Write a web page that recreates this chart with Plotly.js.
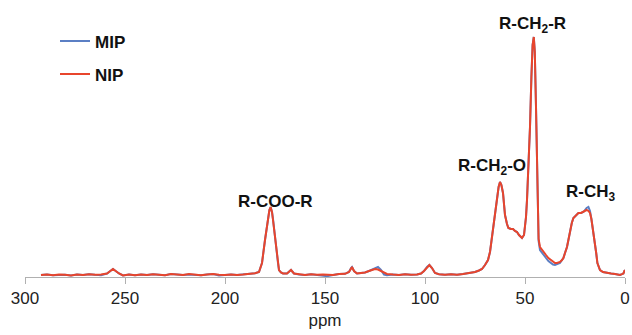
<!DOCTYPE html>
<html>
<head>
<meta charset="utf-8">
<script src="https://cdn.plot.ly/plotly-3.0.1.min.js"></script>
<style>html,body{margin:0;padding:0;background:#fff;}#chart{width:632px;height:335px;}</style>
</head>
<body>
<div id="chart"></div>
<script>
// chemical shift (ppm), descending
var ppm = [292,289,286,283,280,277,274,271,268,265,262,259,257,256,255,253,251,248,245,242,239,236,233,230,227,224,221,218,215,212,209,206,203,200,197,194,191,188,185,183,181.5,180,179,178.5,177.8,177.2,176.5,176,175.2,174.5,173.5,173,172,171,169,167,165.5,163,160,157,154,151,149,146,143,140,138,137,136.5,135.5,134,132,130,128,126,125,123.5,122,120.5,119,116,113,110,107,104,102,100.5,99,97.8,96.5,95,93,90,87,84,81,78,75,73,71.5,70,69,68.5,67.5,66,65,64,63.2,62.5,61.8,61,60,59,58.3,57,56,55,54,53,52,51.5,50.5,49.5,49,48,47.5,46.8,46.2,45.6,45.1,44.5,44,43.6,43.2,42.5,41.5,40.8,39.5,38.3,37,36,35,34,32.5,31.5,30.8,30,29,28.2,27.5,26.6,25.8,24.5,23.3,22,20.8,20,19.2,18.3,17.5,16.8,16.2,15.5,15,14.4,13.8,13.2,12.5,11,9,7,5,3.5,2.5,1.5,0.8,0.3,0];

var nip = [2.0,2.5,1.8,2.6,2.2,1.6,2.4,2.0,2.8,2.2,2.6,3.5,6.5,8.0,6.5,3.5,1.5,2.4,1.8,2.6,2.0,2.8,2.3,1.7,2.9,2.4,2.0,3.0,2.5,1.8,2.6,3.0,2.2,2.0,2.6,1.9,2.4,3.0,3.8,5,14,37,50,60,67,70,65,57,42,30,14,7,4.5,3.5,3.5,7,3.5,2.5,2.0,2.8,2.2,2.6,2.4,2.0,3.0,3.2,5,9,10,6,3.5,4.0,4.5,6,7.5,8,7.5,6,4,3,2.4,2.0,2.8,2.2,2.5,3.5,6,10,12,9,4,2.8,2.3,2.8,2.2,3.0,3.8,5,6.5,8,12,15,17,25,47,64,80,90,95,92,84,62,53,49,48,48,46,45,42,40,39,42,60,77,124,150,200,232,240,225,170,124,70,38,30,27,25,22,19,17,15,14,14,15,17,19,24,30,38,47,54,59,62,64,64,65,66,67,66,64,58,50,42,34,24,14,10,7,5,4,3.5,3,2.5,2,2.8,3.5,6,7];

var mip = [2.0,2.5,1.8,2.0,2.2,1.6,2.4,2.0,2.8,2.2,1.8,3.5,6.5,8.0,6.5,3.5,1.5,2.4,1.8,2.6,2.0,2.8,2.3,1.7,2.9,2.4,2.0,2.6,2.5,1.8,2.6,3.0,1.6,2.0,2.6,1.9,2.4,3.0,3.8,5,14,37,50,60,67,70,65,58,42,30,14,7,4.5,3.5,3.5,7,3.5,2.5,2.0,2.8,2.2,1.6,0.8,2.0,3.0,3.2,5,9,10,6,3.5,4.0,4.5,6,8,9,10,7,2.5,1.8,2.4,2.0,2.8,2.2,2.5,3.5,6,10,12,9,4,2.8,2.3,2.8,2.2,3.0,3.8,5,6.5,8,12,15,17,25,47,64,80,90,95,92,84,62,53,49,48,48,46,45,42,40,39,42,60,77,124,150,200,232,240,225,170,124,70,36,27,24,22,19,16,14,12.5,12,12.5,14,17,19,24,30,38,47,54,59,62,64,64,65,67,69,70,66,58,50,42,34,24,14,10,7,5,4,3.5,3,2.5,2,2.8,3.5,6,7];

var xTicks = [300,250,200,150,100,50,0];
var peakLabels = ['R-COO-R','R-CH<sub>2</sub>-O','R-CH<sub>2</sub>-R','R-CH<sub>3</sub>'];
var peakX = [175, 66.5, 46.5, 17];
var peakY = [76, 110, 252, 84];

var font = 'Liberation Sans, Arial, sans-serif';

var traces = [
  {x: ppm, y: mip, type: 'scatter', mode: 'lines', name: 'MIP', legendgroup: 'a',
   line: {color: '#5b7fc4', width: 2}},
  {x: ppm, y: nip, type: 'scatter', mode: 'lines', name: 'NIP', legendgroup: 'b',
   line: {color: '#e8452c', width: 2}}
];

var annotations = peakLabels.map(function(t, i) {
  return {x: peakX[i], y: peakY[i], xref: 'x', yref: 'y', text: '<b>' + t + '</b>',
          showarrow: false, xanchor: 'center', yanchor: 'middle',
          font: {family: font, size: 17, color: '#111'}};
});

var layout = {
  width: 632, height: 335,
  margin: {l: 25, r: 7, t: 10, b: 58},
  paper_bgcolor: '#fff', plot_bgcolor: '#fff',
  showlegend: true,
  legend: {x: 0.05, y: 0.95, xanchor: 'left', yanchor: 'top', traceorder: 'grouped',
           tracegroupgap: 8, bgcolor: 'rgba(0,0,0,0)',
           font: {family: font, size: 17, color: '#111', weight: 'bold'}},
  xaxis: {range: [300, 0], tickvals: xTicks, ticktext: xTicks.map(String),
          showgrid: false, zeroline: false, showline: true, linecolor: '#b0b0b0', linewidth: 1,
          ticks: 'outside', ticklen: 6, tickcolor: '#b0b0b0',
          tickfont: {family: font, size: 17, color: '#222'},
          title: {text: 'ppm', font: {family: font, size: 17, color: '#222'}, standoff: 6}},
  yaxis: {range: [0, 267], visible: false, showgrid: false, zeroline: false},
  annotations: annotations
};

Plotly.newPlot('chart', traces, layout, {displayModeBar: false, staticPlot: true});
</script>
</body>
</html>
